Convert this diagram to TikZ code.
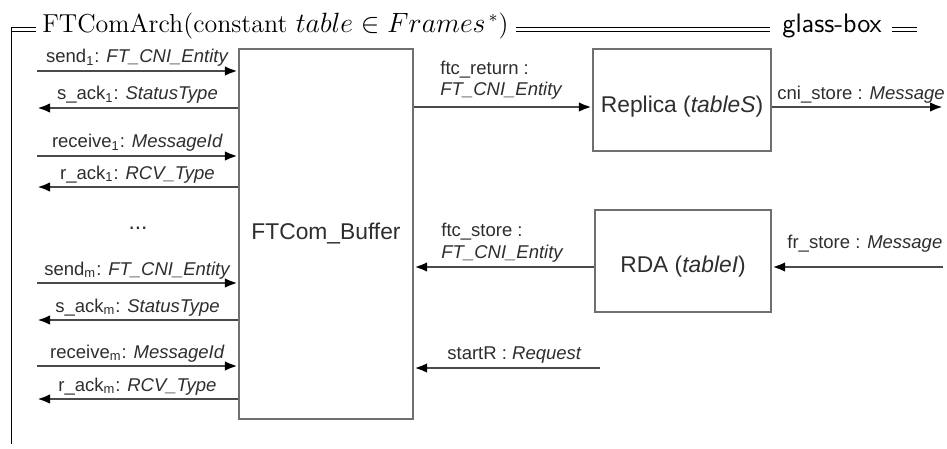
\documentclass[tikz,border=0pt]{standalone}
\usepackage{fontspec}
\usepackage{graphicx}
\usetikzlibrary{arrows.meta}
\newfontfamily\arial{Liberation Sans}
\newcommand\lbfont{\arial\fontsize{9.25}{10.8}\selectfont}
\newcommand\bigfont{\arial\fontsize{11.4}{13.6}\selectfont}
\newcommand\zfont{\fontsize{13.4}{16}\selectfont}
\definecolor{boxgray}{HTML}{707070}
\definecolor{linegray}{HTML}{4A4A4A}
\definecolor{textgray}{HTML}{2E2E2E}
\tikzset{
  box/.style={draw=boxgray, line width=1.15pt, inner sep=0pt},
  arr/.style={draw=linegray, line width=1.3pt,
    -{Latex[length=6.5pt,width=4.8pt,color=black]}},
  lbl/.style={font=\lbfont, text=textgray, inner sep=0pt},
  big/.style={font=\bigfont, text=textgray, inner sep=0pt},
  zline/.style={draw=black, line width=0.5pt},
  ztext/.style={font=\zfont, inner sep=0pt},
}
\begin{document}
\begin{tikzpicture}[x=0.5pt, y=-0.5pt]
\useasboundingbox (0,0) rectangle (947,449);
\fill[white] (0,0) rectangle (947,449);

% schema frame with its heading
\draw[zline] (11,444) -- (11,28) -- (36,28);
\draw[zline] (11,32) -- (36,32);
\node[ztext, anchor=base west] (title) at (42,33)
  {\resizebox{233pt}{!}{FTComArch(constant $table \in Frames^{\,*}$)}};
\draw[zline] (516,28) -- (770,28);
\draw[zline] (516,32) -- (770,32);
\node[ztext, anchor=base west, font=\zfont\sffamily] (kind) at (782,33) {glass-box};
\draw[zline] (892,28) -- (917,28);
\draw[zline] (892,32) -- (917,32);

% components
\node[box, minimum width=87pt, minimum height=185pt] (buf) at (326,234) {};
\node[big] (buftxt) at (326,234) {FTCom\_Buffer};
\node[box, minimum width=89pt, minimum height=51pt] (rep) at (682,100) {};
\node[big] (reptxt) at (682,107) {Replica (\textit{tableS})};
\node[box, minimum width=88pt, minimum height=51pt] (rda) at (683,261) {};
\node[big] (rdatxt) at (683,267) {RDA (\textit{tableI})};

% client ports on the left
\coordinate (s1) at (37,71);
\coordinate (a1) at (37,108);
\coordinate (r1) at (37,156);
\coordinate (k1) at (37,187);
\coordinate (sm) at (37,283);
\coordinate (am) at (37,320);
\coordinate (rm) at (37,366);
\coordinate (km) at (37,399);

\draw[arr] (s1) -- (buf.west |- s1)
  node[lbl, midway, anchor=base, yshift=4pt] {send\textsubscript{1}: \textit{FT\_CNI\_Entity}};
\draw[arr] (buf.west |- a1) -- (a1)
  node[lbl, midway, anchor=base, yshift=4pt] {s\_ack\textsubscript{1}: \textit{StatusType}};
\draw[arr] (r1) -- (buf.west |- r1)
  node[lbl, midway, anchor=base, yshift=4pt] {receive\textsubscript{1}: \textit{MessageId}};
\draw[arr] (buf.west |- k1) -- (k1)
  node[lbl, midway, anchor=base, yshift=4pt] {r\_ack\textsubscript{1}: \textit{RCV\_Type}};

\node[big, anchor=base] (dots) at (138,229) {...};

\draw[arr] (sm) -- (buf.west |- sm)
  node[lbl, midway, anchor=base, yshift=4pt] {send\textsubscript{m}: \textit{FT\_CNI\_Entity}};
\draw[arr] (buf.west |- am) -- (am)
  node[lbl, midway, anchor=base, yshift=4pt] {s\_ack\textsubscript{m}: \textit{StatusType}};
\draw[arr] (rm) -- (buf.west |- rm)
  node[lbl, midway, anchor=base, yshift=4pt] {receive\textsubscript{m}: \textit{MessageId}};
\draw[arr] (buf.west |- km) -- (km)
  node[lbl, midway, anchor=base, yshift=4pt] {r\_ack\textsubscript{m}: \textit{RCV\_Type}};

% replica and RDA links
\coordinate (cniout) at (943,107);
\coordinate (frin) at (943,267);
\coordinate (startin) at (600,368);

\draw[arr] (buf.east |- reptxt) -- (rep.west |- reptxt);
\node[lbl, anchor=base west, align=left] (retlbl) at (440,96)
  {ftc\_return :\\\textit{FT\_CNI\_Entity}};
\draw[arr] (rep.east |- reptxt) -- (cniout);
\node[lbl, anchor=base west] (cnilbl) at (777,100) {cni\_store : \textit{Message}};

\draw[arr] (rda.west |- rdatxt) -- (buf.east |- rdatxt);
\node[lbl, anchor=base west, align=left] (stolbl) at (441,258)
  {ftc\_store :\\\textit{FT\_CNI\_Entity}};
\draw[arr] (frin) -- (rda.east |- rdatxt);
\node[lbl, anchor=base west] (frlbl) at (787,248) {fr\_store : \textit{Message}};

\draw[arr] (startin) -- (buf.east |- startin);
\node[lbl, anchor=base west] (stlbl) at (447,359) {startR : \textit{Request}};
\end{tikzpicture}
\end{document}
